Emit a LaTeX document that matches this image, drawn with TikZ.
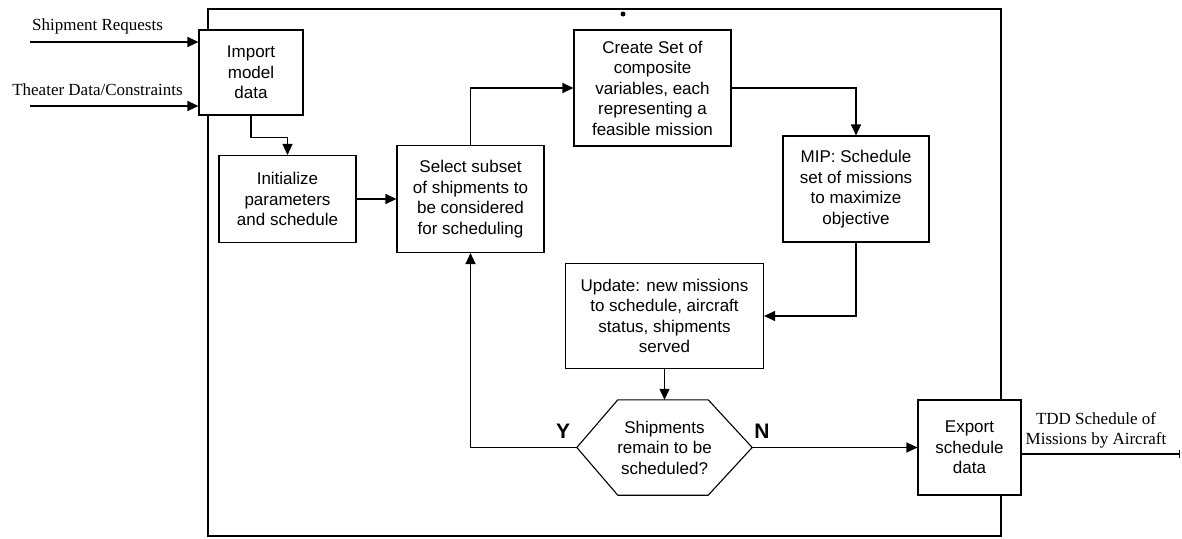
\documentclass[tikz,border=0pt]{standalone}
\usepackage{fontspec}
\setmainfont{Liberation Serif}
\setsansfont{Liberation Sans}
\usetikzlibrary{arrows.meta,positioning}
\tikzset{
  % process box
  procbox/.style={rectangle, draw=black, fill=white, line width=1.1pt, align=center,
                  inner sep=0pt, font=\fontsize{17}{20.5}\selectfont\sffamily},
  % decision (drawn by hand around an invisible node)
  decbox/.style={rectangle, draw=none, inner sep=0pt, minimum width=175pt, minimum height=95pt,
                 align=center, font=\fontsize{17}{20.5}\selectfont\sffamily},
  % flow arrow
  flow/.style={-{Triangle[length=11pt,width=10pt]}, line width=1.2pt},
  % serif side label
  sidelabel/.style={font=\fontsize{17}{20}\selectfont\rmfamily, align=center, inner sep=0pt},
  % answer label
  answer/.style={font=\fontsize{21}{24}\selectfont\sffamily\bfseries, inner sep=0pt},
}
\begin{document}
\begin{tikzpicture}[x=1pt,y=-1pt]
  \useasboundingbox (0,0) rectangle (1182,538);

  % outer frame
  \draw[line width=1.1pt] (208,9) rectangle (1001,536);
  \fill (623,14) circle (2.5pt);

  % boxes
  \node[procbox, minimum width=104pt, minimum height=85pt] (imp) at (251,72.5) {Import\\model\\data};
  \node[procbox, minimum width=137pt, minimum height=87pt] (init) at (287.5,199) {Initialize\\parameters\\and schedule};
  \node[procbox, minimum width=147pt, minimum height=107pt] (sel) at (470.5,199) {Select subset\\of shipments to\\be considered\\for scheduling};
  \node[procbox, minimum width=157pt, minimum height=116pt] (create) at (652.5,88) {Create Set of\\composite\\variables, each\\representing a\\feasible mission};
  \node[procbox, minimum width=146pt, minimum height=106pt] (mip) at (856,189) {MIP: Schedule\\set of missions\\to maximize\\objective};
  \node[procbox, minimum width=198pt, minimum height=105pt] (upd) at (664.5,316) {Update: new missions\\to schedule, aircraft\\status, shipments\\served};
  \node[decbox] (dec) at (664.5,447.5) {Shipments\\remain to be\\scheduled?};
  \draw[line width=1.1pt] (dec.west) -- ([xshift=41pt]dec.north west) -- ([xshift=-44pt]dec.north east)
    -- (dec.east) -- ([xshift=-44pt]dec.south east) -- ([xshift=41pt]dec.south west) -- cycle;
  \node[procbox, minimum width=103pt, minimum height=95pt] (exp) at (969.5,447.5) {Export\\schedule\\data};

  % inputs
  \coordinate (inreq) at (30,42);
  \coordinate (inthe) at (30,106);
  \node[sidelabel] (lblreq) at (97.5,26) {Shipment Requests};
  \node[sidelabel] (lblthe) at (97.5,90) {Theater Data/Constraints};
  \draw[flow] (inreq) -- (inreq -| imp.west);
  \draw[flow] (inthe) -- (inthe -| imp.west);

  % main flow
  \draw[flow] (imp.south) -- ++(0,22) -| (init.north);
  \draw[flow] (init.east) -- (sel.west);
  \draw[flow] (sel.north) |- (create.west);
  \draw[flow] (create.east) -| (mip.north);
  \draw[flow] (mip.south) |- (upd.east);
  \draw[flow] (upd.south) -- (dec.north);
  \draw[flow] (dec.west) -| (sel.south);
  \draw[flow] (dec.east) -- (exp.west);
  \node[answer] (yes) at (563,431) {Y};
  \node[answer] (no) at (762,431) {N};

  % output
  \coordinate (out) at (1180,454);
  \draw[-{Bar[width=8pt]}, line width=1.1pt] (exp.east |- out) -- (out);
  \node[sidelabel] (lblout) at (1096,430) {TDD Schedule of\\Missions by Aircraft};
\end{tikzpicture}
\end{document}
